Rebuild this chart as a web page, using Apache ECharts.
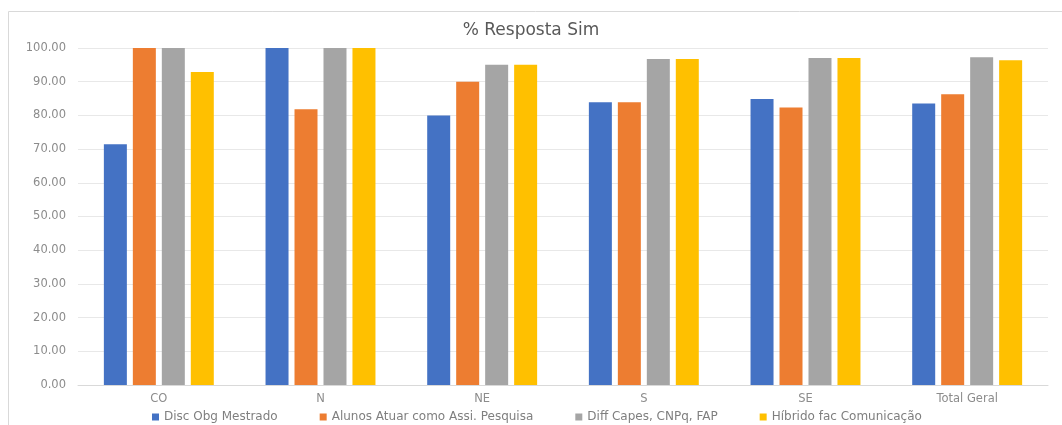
<!DOCTYPE html>
<html>
<head>
<meta charset="utf-8">
<title>% Resposta Sim</title>
<script src="https://cdn.jsdelivr.net/npm/echarts@6/dist/echarts.min.js"></script>
<style>
  html, body { margin: 0; padding: 0; background: #fff; }
  #chart { width: 1062px; height: 425px; }
</style>
</head>
<body>
<div id="chart"></div>
<script>
// Regions and overall total
const categories = ['CO', 'N', 'NE', 'S', 'SE', 'Total Geral'];

// Share of "Sim" answers (%) per question
const discObgMestrado = [71.43, 100.00, 80.00, 83.87, 84.85, 83.56];
const alunosAtuar = [100.00, 81.82, 90.00, 83.87, 82.35, 86.30];
const diffCapes = [100.00, 100.00, 95.00, 96.77, 97.06, 97.26];
const hibridoFac = [92.86, 100.00, 95.00, 96.77, 97.06, 96.35];

const seriesNames = [
  'Disc Obg Mestrado',
  'Alunos Atuar como Assi. Pesquisa',
  'Diff Capes, CNPq, FAP',
  'Híbrido fac Comunicação'
];
const seriesData = [discObgMestrado, alunosAtuar, diffCapes, hibridoFac];
const colors = ['#4472C4', '#ED7D31', '#A5A5A5', '#FFC000'];

const font = 'DejaVu Sans';

const chart = echarts.init(document.getElementById('chart'), null, { renderer: 'canvas' });

chart.setOption({
  animation: false,
  color: colors,
  textStyle: { fontFamily: font },
  // chart-area frame
  graphic: [{
    type: 'rect',
    silent: true,
    z: -10,
    shape: { x: 8.5, y: 11.5, width: 1200, height: 600 },
    style: { fill: 'none', stroke: '#d9d9d9', lineWidth: 1 }
  }],
  title: {
    text: '% Resposta Sim',
    left: 'center',
    top: 17,
    textStyle: { fontFamily: font, fontSize: 17, fontWeight: 'normal', color: '#595959' }
  },
  legend: {
    top: 409,
    left: 152,
    padding: [2, 0, 2, 0],
    itemWidth: 7,
    itemHeight: 7,
    itemGap: 42,
    icon: 'rect',
    textStyle: { fontFamily: font, fontSize: 12, color: '#7f7f7f', padding: [0, 0, 0, 0] },
    data: seriesNames
  },
  grid: { left: 78, right: 14, top: 48, bottom: 40 },
  xAxis: {
    type: 'category',
    data: categories,
    axisTick: { show: false },
    axisLine: { lineStyle: { color: '#d9d9d9' } },
    axisLabel: { fontFamily: font, fontSize: 11.5, color: '#8c8c8c', margin: 8 }
  },
  yAxis: {
    type: 'value',
    min: 0,
    max: 100,
    interval: 10,
    axisLine: { show: false },
    axisTick: { show: false },
    splitLine: { lineStyle: { color: '#e8e8e8' } },
    axisLabel: {
      fontFamily: font, fontSize: 11.5, color: '#8c8c8c', margin: 12,
      formatter: v => v.toFixed(2)
    }
  },
  series: seriesData.map((d, i) => ({
    name: seriesNames[i],
    type: 'bar',
    data: d,
    barGap: '26%',
    barCategoryGap: '32%',
    itemStyle: { color: colors[i] }
  }))
});
</script>
</body>
</html>
